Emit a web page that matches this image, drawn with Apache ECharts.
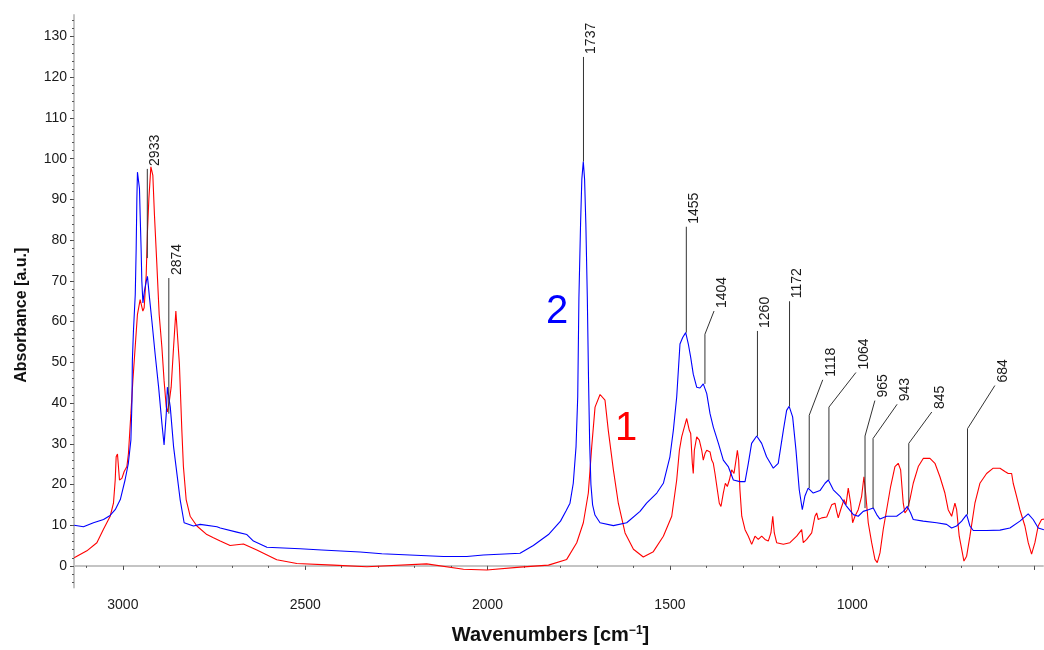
<!DOCTYPE html>
<html>
<head>
<meta charset="utf-8">
<script src="https://cdn.jsdelivr.net/npm/echarts@6/dist/echarts.min.js"></script>
<style>
  html, body { margin: 0; padding: 0; background: #fff; }
  #chart { width: 1044px; height: 650px; }
</style>
</head>
<body>
<div id="chart"></div>
<script>
// Sample 2 (blue): wavenumber [cm-1] and absorbance [a.u.]
const blueWn = [3133.5, 3108, 3080.6, 3053, 3035, 3021, 3007, 2994, 2985, 2978, 2975, 2974, 2971, 2966, 2963.5, 2961.6, 2960, 2954.5, 2952.6, 2950, 2948, 2945, 2941, 2936, 2932.6, 2927, 2920.5, 2911.5, 2902, 2893, 2887, 2881, 2878, 2870, 2861, 2852, 2843, 2832, 2806.5, 2788, 2742, 2733, 2687.5, 2660, 2642, 2605, 2514, 2454.5, 2349.5, 2290, 2121, 2057, 2011.5, 1911, 1874.5, 1833, 1800, 1785, 1774, 1765, 1757.4, 1752.8, 1749.5, 1745, 1741.5, 1737.5, 1734, 1730.5, 1726.5, 1723, 1720, 1716.6, 1712, 1705.5, 1691.6, 1655, 1618.5, 1582, 1564, 1536, 1518, 1500, 1490.6, 1481.4, 1472.4, 1465, 1456.7, 1449.5, 1443, 1436, 1426.6, 1417.6, 1408.5, 1399, 1390, 1381, 1367, 1353.6, 1340, 1326, 1308, 1294, 1285, 1276, 1262, 1248.4, 1235, 1216.5, 1203, 1189, 1180, 1173, 1163.5, 1154.4, 1145.4, 1137, 1130, 1121, 1107, 1088.5, 1074.6, 1065.5, 1052, 1033.7, 1015.3, 997, 983.6, 970, 956, 942.4, 933, 924, 905.7, 878.3, 860, 849, 840, 832.8, 805.4, 768.7, 741.3, 727.6, 713.9, 700, 686.4, 677.4, 668.3, 631.6, 595, 567.7, 540.3, 517.6, 504, 490, 474.5];
const blueAbs = [10.0, 9.6, 10.6, 11.4, 12.4, 13.8, 16.3, 21.1, 25.2, 30.9, 40.7, 50.4, 57.7, 66.7, 78, 90.2, 96.7, 92.7, 86.2, 78, 69.9, 64.6, 67.5, 69.9, 71.1, 65.9, 60.2, 52, 43.9, 35, 29.7, 37.4, 43.9, 39, 29.3, 22.8, 16.3, 10.6, 9.8, 10.2, 9.6, 9.3, 8.3, 7.7, 6.1, 4.6, 4.2, 3.9, 3.4, 3.0, 2.3, 2.3, 2.7, 3.1, 5.0, 7.7, 11.0, 13.5, 15.4, 20.3, 29.3, 41.5, 66, 84, 95, 99.3, 95, 84, 66, 45, 30, 20, 15, 12.5, 10.6, 9.9, 10.6, 13.4, 15.4, 17.9, 20.3, 26.8, 33.3, 41.5, 54.5, 56.1, 57.3, 54.5, 51.2, 47.1, 43.9, 43.7, 44.7, 42.3, 37.4, 34.1, 30.1, 26, 24.4, 21.1, 20.7, 20.7, 25.2, 30.1, 31.9, 30.1, 26.8, 24, 25.2, 33.3, 38.2, 39.2, 36.6, 28.5, 18.7, 13.8, 17.1, 19.1, 17.9, 18.5, 20.3, 21.1, 18.7, 17.1, 14.6, 12.6, 12.2, 13.4, 13.8, 14.2, 12.6, 11.5, 12.2, 12.2, 13.4, 14.6, 13, 11.4, 11, 10.6, 10.2, 9.3, 9.8, 11, 12.6, 9.8, 8.7, 8.7, 8.8, 9.3, 11, 12.8, 11.4, 9.3, 8.9];

// Sample 1 (red): wavenumber [cm-1] and absorbance [a.u.]
const redWn = [3133.5, 3098.7, 3071.3, 3053.2, 3034.8, 3025.8, 3021, 3018.4, 3014.8, 3009.3, 3002.7, 2996.4, 2989, 2984.7, 2978, 2972.6, 2966.3, 2960, 2952.6, 2945.2, 2941.6, 2936, 2932.6, 2928.7, 2923.2, 2917.8, 2913.4, 2906.8, 2900.5, 2893, 2887, 2881, 2878, 2872.3, 2867.6, 2861, 2854.7, 2850.3, 2845, 2838.3, 2834, 2826.5, 2815.5, 2797, 2769.7, 2751.7, 2733, 2706, 2669.4, 2632.7, 2578, 2523, 2422.7, 2331, 2167, 2066, 2002, 1911, 1833, 1783, 1755.5, 1737.4, 1723.7, 1714.4, 1705.3, 1691.6, 1678, 1669, 1655, 1641.5, 1623, 1600, 1573, 1545.5, 1518, 1495, 1481.4, 1474, 1467.7, 1460.5, 1454, 1446.8, 1443, 1438.6, 1436, 1433, 1426.5, 1419.4, 1412.8, 1408.5, 1403.8, 1399, 1390, 1385.4, 1381, 1376.4, 1370, 1364.6, 1360, 1353.6, 1348, 1342.6, 1337, 1330.6, 1324.3, 1318.8, 1315, 1311.5, 1308, 1303, 1294, 1285, 1275.8, 1266.7, 1257.7, 1248.4, 1239.3, 1230.3, 1223, 1218, 1213.8, 1207.3, 1189, 1171, 1152.4, 1138.7, 1134.3, 1125, 1111.3, 1102.3, 1097.6, 1093.2, 1084, 1070, 1056.5, 1047.4, 1042.8, 1038.4, 1031.8, 1022.8, 1017.3, 1011, 1004.4, 999, 992.6, 983.6, 974.3, 968, 962.5, 956.2, 946.8, 937.8, 931.5, 924, 915, 905.7, 894.8, 883, 874, 867.4, 860.2, 855.6, 849.3, 842, 832.8, 819, 805.4, 787, 773.3, 759.6, 746, 737, 727.5, 718.5, 713.8, 706.7, 700, 693.8, 686.4, 677.4, 663.7, 650, 631.6, 613.5, 595, 581.4, 572.4, 563, 558.7, 549.4, 540.3, 526.6, 517.5, 508.3, 499.2, 490.2, 480.8, 474.5];
const redAbs = [2.0, 3.7, 5.7, 9.0, 12.2, 15.4, 21.1, 26.8, 27.5, 21.1, 21.5, 23.2, 24.4, 27.6, 37.4, 45.5, 53.7, 61.8, 65.4, 62.6, 63.4, 71.5, 82.1, 90.2, 98, 95.9, 86.2, 74, 61.8, 53.7, 45.5, 39, 37.8, 40.7, 43.9, 53.7, 62.6, 62.6, 49.6, 33.3, 24.4, 16.3, 12.2, 9.8, 7.7, 6.9, 6.1, 5.0, 5.4, 3.9, 1.5, 0.6, 0.2, -0.2, 0.5, -0.8, -1.0, -0.3, 0.2, 1.6, 5.7, 10.6, 17.9, 29.3, 39, 42.1, 40.7, 33.3, 23.6, 15.4, 8.1, 4.1, 2.2, 3.5, 7.3, 12.2, 21.1, 28.4, 31.7, 34.1, 36.2, 33.3, 32.5, 25.2, 22.7, 28.4, 31.7, 30.9, 28.4, 26, 27.6, 28.4, 28.0, 26, 25.2, 22.7, 18.7, 15.4, 14.6, 17.9, 20.3, 19.5, 21.1, 23.6, 22.7, 26, 28.4, 26, 18.7, 12.2, 8.9, 7.3, 5.3, 7.3, 6.5, 7.3, 6.5, 6.1, 8.1, 12.2, 8.1, 5.7, 5.3, 5.7, 7.3, 8.9, 5.7, 6.5, 8.1, 12.2, 13, 11.4, 11.8, 12.0, 15.0, 15.4, 13.4, 11.8, 13.8, 16.3, 15, 19.1, 15.4, 10.6, 12.2, 13.8, 17.1, 21.9, 17.1, 10.6, 5.7, 1.6, 0.8, 3.2, 9, 13.8, 19.5, 24.4, 25.2, 23.6, 15.4, 13, 13.8, 16.3, 20.3, 24.4, 26.4, 26.4, 25.2, 21.9, 17.9, 13.8, 12.2, 15.4, 13.8, 7.3, 4.1, 1.2, 2.4, 7.3, 15.4, 20.3, 22.7, 24, 24, 23.2, 22.7, 22.7, 20.3, 17.1, 13.8, 9.8, 5.7, 2.9, 5.7, 9.8, 11.4, 11.5];

// Band assignments: leader line from the band (base) up to the knee,
// then on to where the wavenumber tag starts
const peakWn    = [2933, 2874, 1737, 1455, 1404, 1260, 1172, 1118, 1064, 965, 943, 845, 684];
const peakBase  = [75.6, 37.4, 99.3, 57.3, 44.7, 31.9, 39.2, 19.1, 21.1, 14.2, 14.2, 14.6, 12.6];
const peakKnee  = [97.5, 70.7, 125.0, 83.3, 56.9, 57.7, 65.0, 37.0, 39.0, 31.9, 31.3, 30.1, 33.7];
const tagWn     = [2933, 2874, 1737, 1455, 1379, 1260, 1172, 1081, 990, 938, 877, 782, 609];
const tagAbs    = [97.5, 70.7, 125.0, 83.3, 62.6, 57.7, 65.0, 45.7, 47.5, 40.6, 39.7, 37.8, 44.3];

// Spectrum numbers placed beside the curves
const sampleNames = ['2', '1'];
const sampleTagWn = [1809.5, 1620.4];
const sampleTagAbs = [62.3, 33.6];

// Axis ticks
const xLabelValues = [1000, 1500, 2000, 2500, 3000];
const xMajorTicks = [500, 1000, 1500, 2000, 2500, 3000];
const xMinorTicks = [];
for (let v = 500; v <= 3100; v += 100) xMinorTicks.push(v);
const yLabelValues = [];
for (let v = 0; v <= 130; v += 10) yLabelValues.push(v);
const yMinorTicks = [];
for (let v = -4; v <= 134; v += 2) yMinorTicks.push(v);

const X_MIN = 477, X_MAX = 3134, Y_MIN = -5.3, Y_MAX = 135.3;
const FONT = '"Liberation Sans", Arial, Helvetica, sans-serif';

const zip = (a, b) => a.map((v, i) => [v, b[i]]);
const peakData = peakWn.map((w, i) => [w, peakBase[i], peakKnee[i], tagWn[i], tagAbs[i]]);
const sampleColors = ['#0000ff', '#ff0000'];
const sampleData = sampleNames.map((n, i) => [sampleTagWn[i], sampleTagAbs[i], i]);
const plain = v => String(v);

const chart = echarts.init(document.getElementById('chart'), null, { renderer: 'canvas' });

const option = {
  animation: false,
  backgroundColor: '#ffffff',
  grid: { left: 74, right: 1, top: 15, bottom: 58 },
  xAxis: [
    {
      type: 'value', inverse: true, min: X_MIN, max: X_MAX, position: 'bottom',
      name: 'Wavenumbers [cm{sup|\u22121}]',
      nameLocation: 'middle', nameGap: 37,
      nameTextStyle: {
        fontFamily: FONT, fontSize: 20, fontWeight: 'bold', color: '#111',
        padding: [0, 16, 0, 0],
        rich: { sup: { fontFamily: FONT, fontSize: 12, fontWeight: 'bold', color: '#111', verticalAlign: 'top', padding: [0, 0, 9, 0] } }
      },
      axisLine: { show: true, lineStyle: { color: '#c4c4c4', width: 2 } },
      axisTick: { show: true, customValues: xMajorTicks, length: 4, lineStyle: { color: '#444', width: 1 } },
      axisLabel: { show: true, customValues: xLabelValues, formatter: plain, margin: 11, fontFamily: FONT, fontSize: 14, color: '#1a1a1a' },
      splitLine: { show: false }
    },
    {
      type: 'value', inverse: true, min: X_MIN, max: X_MAX, position: 'bottom', gridIndex: 0,
      axisLine: { show: false },
      axisTick: { show: true, customValues: xMinorTicks, length: 2, lineStyle: { color: '#555', width: 1 } },
      axisLabel: { show: false },
      splitLine: { show: false }
    }
  ],
  yAxis: [
    {
      type: 'value', min: Y_MIN, max: Y_MAX, position: 'left',
      name: 'Absorbance [a.u.]',
      nameLocation: 'middle', nameGap: 44, nameRotate: 90,
      nameTextStyle: { fontFamily: FONT, fontSize: 16, fontWeight: 'bold', color: '#111', padding: [0, 28, 0, 0] },
      axisLine: { show: true, lineStyle: { color: '#c4c4c4', width: 2 } },
      axisTick: { show: true, customValues: yLabelValues, length: 4, lineStyle: { color: '#444', width: 1 } },
      axisLabel: { show: true, customValues: yLabelValues, formatter: plain, margin: 7, fontFamily: FONT, fontSize: 14, color: '#1a1a1a' },
      splitLine: { show: false }
    },
    {
      type: 'value', min: Y_MIN, max: Y_MAX, position: 'left', gridIndex: 0,
      axisLine: { show: false },
      axisTick: { show: true, customValues: yMinorTicks, length: 2, lineStyle: { color: '#555', width: 1 } },
      axisLabel: { show: false },
      splitLine: { show: false }
    }
  ],
  series: [
    {
      name: '1', type: 'line', xAxisIndex: 0, yAxisIndex: 0,
      data: zip(redWn, redAbs), showSymbol: false, symbol: 'none',
      lineStyle: { color: '#ff0000', width: 1.1 }, z: 3
    },
    {
      name: '2', type: 'line', xAxisIndex: 0, yAxisIndex: 0,
      data: zip(blueWn, blueAbs), showSymbol: false, symbol: 'none',
      lineStyle: { color: '#0000ff', width: 1.1 }, z: 4
    },
    {
      name: 'bands', type: 'custom', xAxisIndex: 0, yAxisIndex: 0, clip: false, z: 5,
      data: peakData,
      renderItem: function (params, api) {
        const p0 = api.coord([api.value(0), api.value(1)]);
        const p1 = api.coord([api.value(0), api.value(2)]);
        const p2 = api.coord([api.value(3), api.value(4)]);
        const pts = [p0, p1];
        if (Math.abs(p2[0] - p1[0]) > 0.5 || Math.abs(p2[1] - p1[1]) > 0.5) pts.push(p2);
        return {
          type: 'group',
          children: [
            { type: 'polyline', shape: { points: pts }, style: { stroke: '#333', lineWidth: 1, fill: null } },
            {
              type: 'text', x: p2[0] + 8, y: p2[1] - 3, rotation: Math.PI / 2,
              style: { text: String(api.value(0)), fontFamily: FONT, fontSize: 14, fill: '#1a1a1a', align: 'left', verticalAlign: 'middle' }
            }
          ]
        };
      }
    },
    {
      name: 'samples', type: 'custom', xAxisIndex: 0, yAxisIndex: 0, clip: false, z: 6,
      data: sampleData,
      renderItem: function (params, api) {
        const p = api.coord([api.value(0), api.value(1)]);
        const idx = api.value(2);
        return {
          type: 'text', x: p[0], y: p[1],
          style: { text: sampleNames[idx], fontFamily: FONT, fontSize: 40, fill: sampleColors[idx], align: 'center', verticalAlign: 'middle' }
        };
      }
    }
  ]
};

chart.setOption(option);
</script>
</body>
</html>
